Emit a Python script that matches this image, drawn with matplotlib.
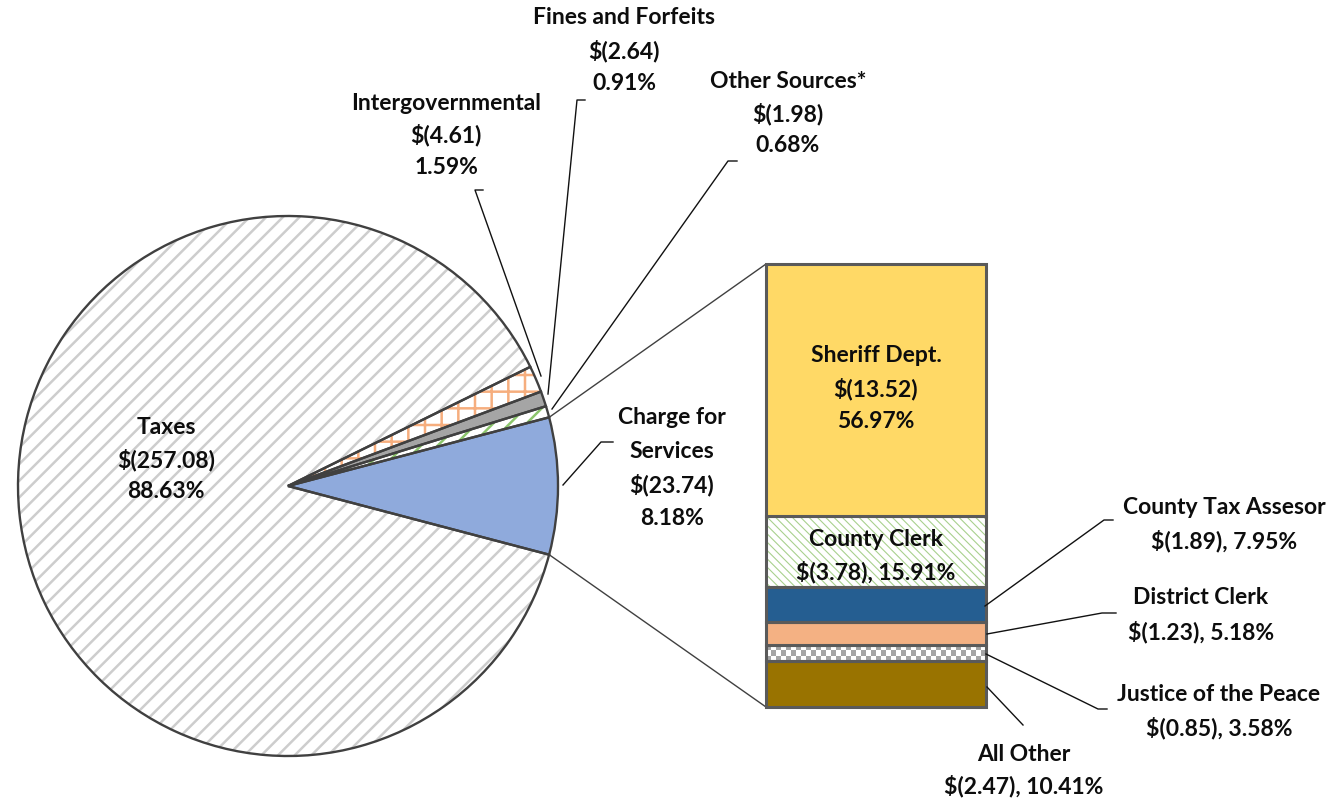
import numpy as np
import matplotlib
matplotlib.use("Agg")
import matplotlib.pyplot as plt
from matplotlib.colors import ListedColormap

plt.rcParams['font.family'] = ['Lato', 'DejaVu Sans']
plt.rcParams['hatch.linewidth'] = 1.8

# ---------------- data ----------------
pie_labels = ["Charge for\nServices", "Other Sources*", "Fines and Forfeits", "Intergovernmental", "Taxes"]
pie_values = [23.74, 1.98, 2.64, 4.61, 257.08]
pie_pcts = ["8.18%", "0.68%", "0.91%", "1.59%", "88.63%"]

bar_labels = ["Sheriff Dept.", "County Clerk", "County Tax Assesor", "District Clerk", "Justice of the Peace", "All Other"]
bar_values = [13.52, 3.78, 1.89, 1.23, 0.85, 2.47]
bar_pcts = ["56.97%", "15.91%", "7.95%", "5.18%", "3.58%", "10.41%"]

# ---------------- figure ----------------
W, H = 1335, 804
fig = plt.figure(figsize=(W / 100, H / 100), dpi=100)
ax = fig.add_axes([0, 0, 1, 1])

def Y(py):
    return H - py

cx, cy, R = 288, Y(487), 270
total = sum(pie_values)
start = -pie_values[0] / total * 360 / 2

pie_face = ["#8FAADC", "white", "#A5A5A5", "white", "white"]
pie_hatch = [None, "//", None, "+", "//"]
pie_hcol = [None, "#8CC56C", None, "#F6AE7E", "#CDCDCD"]

# hatch layer
w_h, _ = ax.pie(pie_values, startangle=start, counterclock=True, center=(cx, cy), radius=R,
                colors=pie_face, wedgeprops=dict(linewidth=0))
for w, h, hc in zip(w_h, pie_hatch, pie_hcol):
    if h:
        w.set_hatch(h)
        w.set_edgecolor(hc)
# outline layer
w_o, _ = ax.pie(pie_values, startangle=start, counterclock=True, center=(cx, cy), radius=R,
                colors=["none"] * 5, wedgeprops=dict(linewidth=1.7, edgecolor="#404040"))

# ---------------- stacked bar ----------------
bar_x = 876
bar_w = 220
bar_top_py, bar_bot_py = 265, 708
scale = (bar_bot_py - bar_top_py) / sum(bar_values)
bar_face = ["#FFD966", "white", "#255E91", "#F4B183", "white", "#997300"]
bar_hatch = [None, "\\\\\\\\", None, None, None, None]
bar_hcol = [None, "#A9D18E", None, None, None, None]

bottom = Y(bar_bot_py)
bars = {}
for lab, v, fc, hh, hc in reversed(list(zip(bar_labels, bar_values, bar_face, bar_hatch, bar_hcol))):
    hgt = v * scale
    if hh:
        with plt.rc_context({'hatch.linewidth': 0.8}):
            ax.bar(bar_x, hgt, bottom=bottom, width=bar_w, color=fc, hatch=hh, edgecolor=hc, linewidth=0, zorder=2)
    b = ax.bar(bar_x, hgt, bottom=bottom, width=bar_w, color=fc if not hh else "none",
               edgecolor="#5A5A5A", linewidth=2.2, zorder=3)[0]
    bars[lab] = b
    bottom += hgt

# checker pattern for Justice of the Peace
jb = bars["Justice of the Peace"]
x0, y0 = jb.get_x(), jb.get_y()
bw, bh = jb.get_width(), jb.get_height()
n_x = int(round(bw / 5))
n_y = max(1, int(round(bh / 5)))
chk = (np.indices((n_y, n_x)).sum(axis=0) % 2)
im = ax.imshow(chk, cmap=ListedColormap(["#A5A5A5", "white"]), extent=(x0, x0 + bw, y0, y0 + bh),
               interpolation="nearest", zorder=2.5, aspect="auto")
im.set_clip_path(jb)
jb.set_facecolor("none")

# connection lines pie -> bar
w0 = w_o[0]
t1, t2 = np.radians(w0.theta1), np.radians(w0.theta2)
top_bar = bars["Sheriff Dept."]
bot_bar = bars["All Other"]
ax.plot([cx + R * np.cos(t2), top_bar.get_x()], [cy + R * np.sin(t2), top_bar.get_y() + top_bar.get_height()],
        color="#404040", lw=1.0, zorder=1)
ax.plot([cx + R * np.cos(t1), bot_bar.get_x()], [cy + R * np.sin(t1), bot_bar.get_y()],
        color="#404040", lw=1.0, zorder=1)

# ---------------- text ----------------
FS = 16.5
def label(x, py_first, lines, spacing=33):
    for i, t in enumerate(lines):
        ax.text(x, Y(py_first + i * spacing), t, ha="center", va="center", fontsize=FS,
                fontweight="bold", color="#0D0D0D", zorder=5)

def leader(pts):
    xs = [p[0] for p in pts]
    ys = [Y(p[1]) for p in pts]
    ax.plot(xs, ys, color="#111111", lw=1.0, zorder=4)

def money(v):
    return "$(" + f"{v:.2f}" + ")"

label(166, 428, ["Taxes", money(pie_values[4]), pie_pcts[4]], spacing=32)
label(446, 103, ["Intergovernmental", money(pie_values[3]), pie_pcts[3]], spacing=32)
label(624, 18, ["Fines and Forfeits", money(pie_values[2]), pie_pcts[2]])
label(788, 82, ["Other Sources*", money(pie_values[1]), pie_pcts[1]], spacing=32)
label(672, 418, ["Charge for", "Services", money(pie_values[0]), pie_pcts[0]], spacing=33.5)

label(876, 356, [bar_labels[0], money(bar_values[0]), bar_pcts[0]])
label(876, 540, [bar_labels[1], money(bar_values[1]) + ", " + bar_pcts[1]], spacing=32)
label(1224, 507, [bar_labels[2], money(bar_values[2]) + ", " + bar_pcts[2]], spacing=34)
label(1201, 598, [bar_labels[3], money(bar_values[3]) + ", " + bar_pcts[3]], spacing=34)
label(1219, 695, [bar_labels[4], money(bar_values[4]) + ", " + bar_pcts[4]])
label(1024, 755, [bar_labels[5], money(bar_values[5]) + ", " + bar_pcts[5]], spacing=31)

leader([(483, 191), (475, 191), (541, 377)])
leader([(585, 101), (577, 101), (548, 395)])
leader([(737, 162), (728, 162), (552, 410)])
leader([(613, 443), (601, 443), (563, 486)])
leader([(985, 607), (1104, 521), (1113, 521)])
leader([(987, 635), (1102, 614), (1116, 614)])
leader([(986, 655), (1098, 710), (1107, 710)])
leader([(987, 688), (1023, 726)])

ax.set_xlim(0, W)
ax.set_ylim(0, H)
ax.set_aspect("equal")
ax.axis("off")
fig.savefig("out.png", dpi=100, facecolor="white")
